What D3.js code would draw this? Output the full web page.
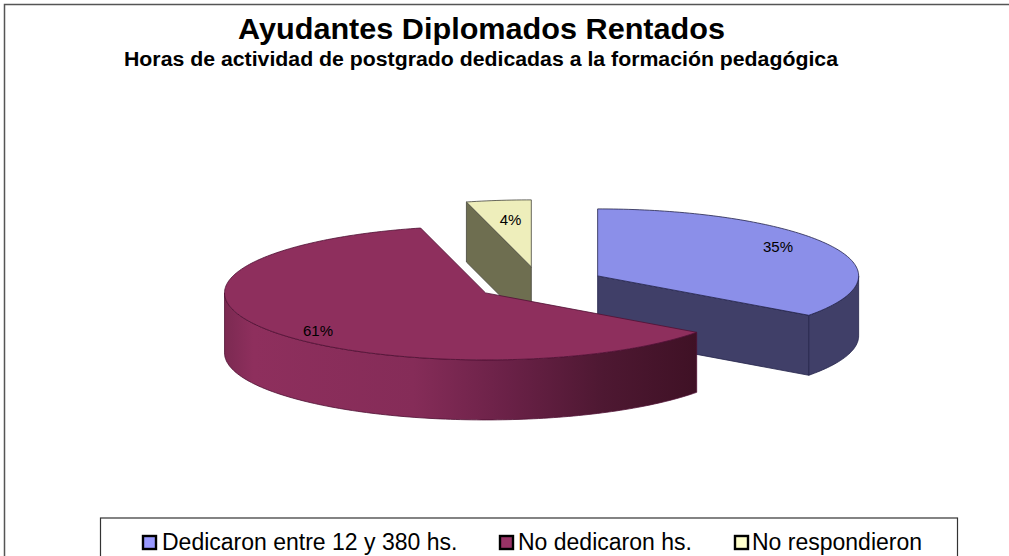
<!DOCTYPE html>
<html><head><meta charset="utf-8">
<script src="https://cdn.jsdelivr.net/npm/d3@7"></script>
<style>html,body{margin:0;padding:0;background:#fff}svg{display:block}text{font-family:"Liberation Sans",Arial,sans-serif;fill:#000}</style>
</head><body><svg id="c" width="1009" height="556"></svg>
<script>
const categories = ["Dedicaron entre 12 y 380 hs.", "No dedicaron hs.", "No respondieron"];
const values = [35, 61, 4];
const labels = ["35%", "61%", "4%"];
const topColors = ["#8b8fe9", "#8e2f5d", "#eeeebb"];
const wallColors = ["#403f68", "#8e2f5d", "#6e6e50"];
const swatchColors = ["#9999ff", "#993366", "#ffffcc"];
const edgeColors = ["#23234a", "#4f1033", "#44443a"];
const titleText = "Ayudantes Diplomados Rentados";
const subtitleText = "Horas de actividad de postgrado dedicadas a la formación pedagógica";

const svg = d3.select("#c");
const W = 1009, H = 556;
const cx = 539.5, cy = 283.5, rx = 261, ry = 67, depth = 60, explode = 0.25;

svg.append("path").attr("d",`M4.5 ${H}V4.5H${W}`).attr("fill","none").attr("stroke","#555").attr("stroke-width",1.5);

const defs = svg.append("defs");
const grad = defs.append("linearGradient").attr("id","mw").attr("gradientUnits","userSpaceOnUse")
  .attr("x1",225).attr("x2",697).attr("y1",0).attr("y2",0);
[[0,"#7c2a52"],[0.06,"#8e2f5d"],[0.4,"#852c58"],[0.6,"#6a2147"],[0.8,"#4e1832"],[1,"#3f1125"]]
  .forEach(s=>grad.append("stop").attr("offset",s[0]).attr("stop-color",s[1]));

const arcs = d3.pie().sort(null).value(d=>d)(values);
const project = (a,r,ox,oy,dz=0)=>[ox+r*rx*Math.sin(a), oy-r*ry*Math.cos(a)+dz];

function arcPts(a0,a1,ox,oy,dz){
  const n=Math.max(2,Math.ceil((a1-a0)/0.02));
  return d3.range(n+1).map(i=>project(a0+(a1-a0)*i/n,1,ox,oy,dz));
}
const line = d3.line().curve(d3.curveLinear);

[2,0,1].forEach(i=>{
  const s=arcs[i], mid=(s.startAngle+s.endAngle)/2;
  const ox=cx+explode*rx*Math.sin(mid), oy=cy-explode*ry*Math.cos(mid);
  const g=svg.append("g");
  const apex=[ox,oy], apexB=[ox,oy+depth];
  const wall=i===1?"url(#mw)":wallColors[i];
  const drawRadial=(a)=>{
    const p=project(a,1,ox,oy), q=project(a,1,ox,oy,depth);
    g.append("path").attr("d",line([apex,p,q,apexB])+"Z").attr("fill",wall)
      .attr("stroke",edgeColors[i]).attr("stroke-width",0.8);
  };
  if(i===0) drawRadial(s.endAngle);
  if(i===2) drawRadial(s.startAngle);
  const a0=Math.max(s.startAngle,Math.PI/2), a1=Math.min(s.endAngle,Math.PI*1.5);
  if(a1>a0){
    const t=arcPts(a0,a1,ox,oy,0), b=arcPts(a0,a1,ox,oy,depth).reverse();
    g.append("path").attr("d",line(t.concat(b))+"Z").attr("fill",wall)
      .attr("stroke",edgeColors[i]).attr("stroke-width",0.8);
  }
  g.append("path").attr("d",line([apex].concat(arcPts(s.startAngle,s.endAngle,ox,oy,0)))+"Z")
    .attr("fill",topColors[i]).attr("stroke",edgeColors[i]).attr("stroke-width",0.8).attr("stroke-linejoin","round");
});

const labelPos=[[778,252],[318,336],[510.5,225]];
labels.forEach((t,i)=>svg.append("text").attr("x",labelPos[i][0]).attr("y",labelPos[i][1])
  .attr("text-anchor","middle").attr("font-size",15).text(t));

svg.append("text").attr("x",481.5).attr("y",39).attr("text-anchor","middle")
  .attr("font-size",29).attr("font-weight","bold")
  .attr("textLength",487).attr("lengthAdjust","spacingAndGlyphs").text(titleText);
svg.append("text").attr("x",481).attr("y",66).attr("text-anchor","middle")
  .attr("font-size",20).attr("font-weight","bold")
  .attr("textLength",714).attr("lengthAdjust","spacingAndGlyphs").text(subtitleText);

svg.append("rect").attr("x",100.5).attr("y",518).attr("width",857).attr("height",50)
  .attr("fill","#fff").attr("stroke","#333").attr("stroke-width",1.2);
const legendX=[143,500,735];
const legendTextX=[162,518,752];
categories.forEach((c,i)=>{
  svg.append("rect").attr("x",legendX[i]).attr("y",536).attr("width",13).attr("height",13)
    .attr("fill",swatchColors[i]).attr("stroke","#000").attr("stroke-width",2.4);
  svg.append("text").attr("x",legendTextX[i]).attr("y",550).attr("font-size",23).text(c);
});
</script></body></html>
